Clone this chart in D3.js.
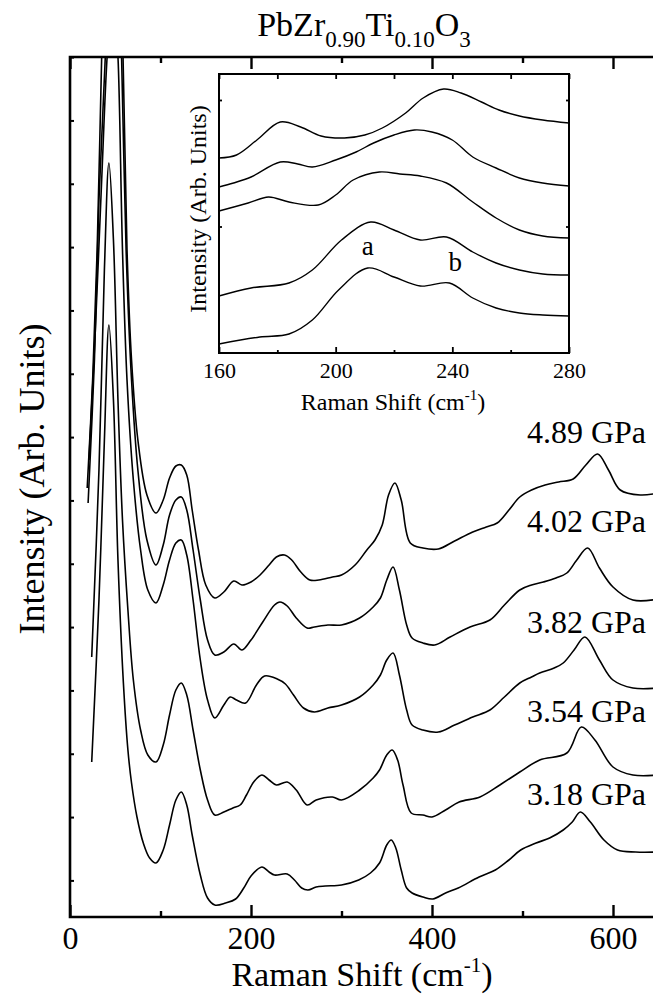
<!DOCTYPE html>
<html>
<head>
<meta charset="utf-8">
<script src="https://cdn.jsdelivr.net/npm/d3@7"></script>
<style>
  body { margin: 0; background: #fff; }
  svg text { font-family: "Liberation Serif", "Times New Roman", serif; fill: #000; }
</style>
</head>
<body>
<svg id="chart" width="653" height="994"></svg>
<script>
let svg = d3.select("#chart");

// pressure labels, top curve first
const pressures = ["4.89 GPa", "4.02 GPa", "3.82 GPa", "3.54 GPa", "3.18 GPa"];
const labelLevel = [474, 385, 284, 195, 112];

// main spectra: [Raman shift (cm-1), intensity (arb.)]
const p489 = [[19,429],[25,537],[30,667],[35,860],[40,1037],[47,1117],[53,1017],[58.6,860],[63,667],[68,557],[75,477],[85,422],[95,404],[103,417],[110,439],[117,451],[123,452],[129,442],[135,407],[142,367],[150,332],[160,319],[170,325],[181,336],[190,332],[200,335],[210,342],[220,352],[228,360],[237,362],[245,357],[255,345],[265,337],[275,337],[290,340],[300,342],[315,352],[328,367],[337,377],[345,392],[352,422],[359,434],[366,417],[376,374],[390,369],[407,368],[425,376],[445,385],[460,390],[472,394],[485,407],[497,420],[510,427],[525,432],[540,435],[556,438],[570,452],[583,463],[595,447],[608,427],[630,422],[650,424]];
const p402 = [[20,414],[27,557],[32,717],[39,860],[44,1017],[48,1067],[53,977],[57,860],[62,667],[68,537],[75,447],[85,377],[95,352],[103,372],[110,402],[117,417],[123,420],[129,407],[136,367],[144,317],[152,277],[160,262],[170,265],[181,273],[190,267],[200,277],[213,295],[226,312],[232,315],[240,311],[250,299],[262,289],[270,290],[285,292],[300,292],[320,299],[335,310],[343,319],[350,337],[357,350],[364,327],[372,292],[378,279],[390,274],[403,272],[420,280],[442,290],[464,297],[480,312],[497,327],[510,332],[523,335],[537,339],[549,344],[560,357],[572,369],[585,349],[600,330],[622,317],[650,318]];
const p382 = [[21,457],[28,587],[35,737],[41,860],[46,917],[50,897],[53,860],[58,667],[63,537],[70,437],[78,367],[86,327],[95,314],[103,332],[110,357],[117,374],[123,377],[129,362],[136,317],[144,257],[152,217],[160,199],[170,212],[177,220],[184,217],[194,214],[206,232],[215,241],[229,238],[238,233],[247,222],[258,209],[270,205],[285,209],[300,212],[320,220],[335,232],[343,242],[350,257],[357,264],[364,242],[372,207],[378,192],[390,187],[407,185],[425,192],[445,200],[464,207],[480,220],[497,234],[510,240],[519,244],[535,249],[545,254],[557,267],[569,280],[585,257],[600,237],[622,229],[650,229]];
const p354 = [[24,260],[32,447],[38,647],[43,754],[48,677],[53,517],[58,397],[64,307],[70,237],[78,187],[86,162],[95,155],[103,172],[110,202],[117,227],[123,234],[129,222],[136,187],[144,147],[152,117],[160,102],[170,105],[180,109],[188,112],[195,122],[203,135],[212,142],[220,137],[228,132],[240,135],[250,127],[262,112],[272,117],[290,120],[300,117],[320,127],[335,139],[342,147],[350,162],[356,167],[362,157],[368,132],[377,104],[390,102],[400,100],[415,107],[430,115],[453,120],[475,132],[497,145],[519,157],[549,164],[565,190],[580,177],[600,150],[622,142],[650,142]];
const p318 = [[24,155],[32,317],[38,477],[43,592],[48,517],[53,357],[59,234],[64,167],[68,134],[74,100],[81,74],[88,59],[95,54],[103,67],[110,92],[117,117],[123,125],[129,112],[135,82],[144,42],[152,19],[160,12],[172,14],[183,18],[192,29],[200,41],[212,50],[220,45],[226,42],[240,43],[248,37],[256,29],[263,27],[272,30],[282,31],[300,32],[319,37],[332,44],[342,54],[350,72],[355,77],[360,69],[366,47],[372,29],[378,24],[390,20],[401,18],[415,24],[429,29],[452,40],[470,47],[485,57],[498,67],[515,74],[530,79],[545,87],[555,95],[564,105],[575,95],[590,77],[605,67],[625,65],[650,65]];
const spectra = [p489, p402, p382, p354, p318];

// inset spectra, 160-280 cm-1
const i489 = [[160,195],[166,198],[173,213],[181,231],[188,226],[195,217],[203,215],[210,218],[216,225],[224,240],[230,255],[237,264],[243,260],[250,251],[256,243],[263,237],[271,233],[280,230]];
const i402 = [[160,166],[165,170],[171,176],[181,191],[187,189],[192,186],[200,193],[207,201],[213,210],[220,218],[227,223],[233,221],[240,213],[247,196],[255,185],[263,175],[271,170],[280,167]];
const i382 = [[160,142],[170,150],[177,156],[184,151],[194,148],[200,158],[206,173],[215,181],[222,179],[229,177],[238,170],[247,151],[255,135],[263,123],[271,117],[280,115]];
const i354 = [[160,57],[171,65],[184,70],[192,83],[202,113],[212,131],[220,123],[229,113],[238,116],[247,101],[255,90],[263,83],[271,79],[280,78]];
const i318 = [[160,9],[174,16],[184,19],[192,33],[201,63],[211,85],[220,76],[229,67],[239,70],[247,55],[255,45],[263,40],[271,38],[280,37]];
const insetSpectra = [i489, i402, i382, i354, i318];

const xMajor = [0, 200, 400, 600];
const xMinor = [100, 300, 500, 700];
const insetMajor = [160, 200, 240, 280];
const insetMinor = [180, 220, 260];
const insetTop = [160, 180, 200, 220, 240, 260, 280];

// scales
let x = d3.scaleLinear().domain([0, 700]).range([70, 703.5]);
let y = d3.scaleLinear().domain([0, 860]).range([917, 57]);
let yTicks = d3.range(13 + 1).map(k => 36.6 + k * 63.33);

let line = d3.line()
    .x(d => x(d[0]))
    .y(d => y(d[1]))
    .curve(d3.curveCatmullRom.alpha(0.5));

svg.append("clipPath").attr("id", "plotclip")
  .append("rect").attr("x", 70).attr("y", 57).attr("width", 640).attr("height", 860);

let plot = svg.append("g").attr("clip-path", "url(#plotclip)");
spectra.forEach(s => {
    plot.append("path")
        .datum(s)
        .attr("d", line)
        .attr("fill", "none")
        .attr("stroke", "#000")
        .attr("stroke-width", 1.6);
});

// pressure labels
svg.selectAll("text.press")
    .data(pressures)
    .join("text")
    .attr("class", "press")
    .attr("x", x(636.5))
    .attr("y", (d, i) => y(labelLevel[i]))
    .attr("text-anchor", "end")
    .style("font-size", "32px")
    .text(d => d);

// main axes
function styleAxis(g, w) {
    g.select(".domain").remove();
    g.selectAll(".tick line").attr("stroke", "#000").attr("stroke-width", w);
}

svg.append("g")
    .attr("transform", "translate(0,917)")
    .call(d3.axisBottom(x).tickValues(xMajor).tickSizeInner(-12).tickSizeOuter(0).tickPadding(9))
    .call(g => styleAxis(g, 2.4))
    .call(g => g.selectAll("text").style("font-size", "32px"));
svg.append("g")
    .attr("transform", "translate(0,917)")
    .call(d3.axisBottom(x).tickValues(xMinor).tickSizeInner(-6).tickSizeOuter(0).tickFormat(""))
    .call(g => styleAxis(g, 2.4));
svg.append("g")
    .attr("transform", "translate(0,57)")
    .call(d3.axisTop(x).tickValues(xMajor).tickSizeInner(-12).tickSizeOuter(0).tickFormat(""))
    .call(g => styleAxis(g, 2.4));
svg.append("g")
    .attr("transform", "translate(0,57)")
    .call(d3.axisTop(x).tickValues(xMinor).tickSizeInner(-6).tickSizeOuter(0).tickFormat(""))
    .call(g => styleAxis(g, 2.4));
svg.append("g")
    .attr("transform", "translate(70,0)")
    .call(d3.axisLeft(y).tickValues(yTicks).tickSizeInner(-4).tickSizeOuter(0).tickFormat(""))
    .call(g => styleAxis(g, 2));

// frame (right side runs off the page)
svg.append("path")
    .attr("d", `M${x(700)},${y(860)}H${x(0)}V${y(0)}H${x(700)}`)
    .attr("fill", "none")
    .attr("stroke", "#000")
    .attr("stroke-width", 2.6);

// title
let title = svg.append("text")
    .attr("x", 364)
    .attr("y", 36)
    .attr("text-anchor", "middle")
    .style("font-size", "34px");
title.append("tspan").text("PbZr");
title.append("tspan").attr("dy", 11).style("font-size", "23px").text("0.90");
title.append("tspan").attr("dy", -11).text("Ti");
title.append("tspan").attr("dy", 11).style("font-size", "23px").text("0.10");
title.append("tspan").attr("dy", -11).text("O");
title.append("tspan").attr("dy", 11).style("font-size", "23px").text("3");

// axis titles
let xt = svg.append("text")
    .attr("x", 362)
    .attr("y", 986)
    .attr("text-anchor", "middle")
    .style("font-size", "34px");
xt.append("tspan").text("Raman Shift (cm");
xt.append("tspan").attr("dy", -14).style("font-size", "21px").text("-1");
xt.append("tspan").attr("dy", 14).text(")");

svg.append("text")
    .attr("transform", "translate(44,479) rotate(-90)")
    .attr("text-anchor", "middle")
    .style("font-size", "36px")
    .text("Intensity (Arb. Units)");

// ---------- inset ----------
let xi = d3.scaleLinear().domain([160, 280]).range([219, 569]);
let yi = d3.scaleLinear().domain([0, 279]).range([353, 74]);
let yiTicks = [126.5, 253];

let iline = d3.line()
    .x(d => xi(d[0]))
    .y(d => yi(d[1]))
    .curve(d3.curveCatmullRom.alpha(0.5));

svg.append("rect")
    .attr("x", xi(160)).attr("y", yi(279))
    .attr("width", xi(280) - xi(160)).attr("height", yi(0) - yi(279))
    .attr("fill", "#fff");

insetSpectra.forEach(s => {
    svg.append("path")
        .datum(s)
        .attr("d", iline)
        .attr("fill", "none")
        .attr("stroke", "#000")
        .attr("stroke-width", 1.4);
});

svg.append("g")
    .attr("transform", `translate(0,${yi(0)})`)
    .call(d3.axisBottom(xi).tickValues(insetMajor).tickSizeInner(-6).tickSizeOuter(0).tickPadding(9))
    .call(g => styleAxis(g, 1.8))
    .call(g => g.selectAll("text").style("font-size", "22px"));
svg.append("g")
    .attr("transform", `translate(0,${yi(0)})`)
    .call(d3.axisBottom(xi).tickValues(insetMinor).tickSizeInner(-3).tickSizeOuter(0).tickFormat(""))
    .call(g => styleAxis(g, 1.8));
svg.append("g")
    .attr("transform", `translate(0,${yi(279)})`)
    .call(d3.axisTop(xi).tickValues(insetTop).tickSizeInner(-5).tickSizeOuter(0).tickFormat(""))
    .call(g => styleAxis(g, 1.8));
svg.append("g")
    .attr("transform", `translate(${xi(160)},0)`)
    .call(d3.axisLeft(yi).tickValues(yiTicks).tickSizeInner(-3).tickSizeOuter(0).tickFormat(""))
    .call(g => styleAxis(g, 1.8));
svg.append("g")
    .attr("transform", `translate(${xi(280)},0)`)
    .call(d3.axisRight(yi).tickValues(yiTicks).tickSizeInner(-3).tickSizeOuter(0).tickFormat(""))
    .call(g => styleAxis(g, 1.8));

svg.append("rect")
    .attr("x", xi(160)).attr("y", yi(279))
    .attr("width", xi(280) - xi(160)).attr("height", yi(0) - yi(279))
    .attr("fill", "none")
    .attr("stroke", "#000")
    .attr("stroke-width", 2);

svg.append("text")
    .attr("x", xi(211)).attr("y", yi(98))
    .attr("text-anchor", "middle")
    .style("font-size", "27px")
    .text("a");
svg.append("text")
    .attr("x", xi(241)).attr("y", yi(82))
    .attr("text-anchor", "middle")
    .style("font-size", "27px")
    .text("b");

let xit = svg.append("text")
    .attr("x", 393)
    .attr("y", 410)
    .attr("text-anchor", "middle")
    .style("font-size", "24px");
xit.append("tspan").text("Raman Shift (cm");
xit.append("tspan").attr("dy", -10).style("font-size", "15px").text("-1");
xit.append("tspan").attr("dy", 10).text(")");

svg.append("text")
    .attr("transform", "translate(206,209) rotate(-90)")
    .attr("text-anchor", "middle")
    .style("font-size", "24px")
    .text("Intensity (Arb. Units)");
</script>
</body>
</html>
